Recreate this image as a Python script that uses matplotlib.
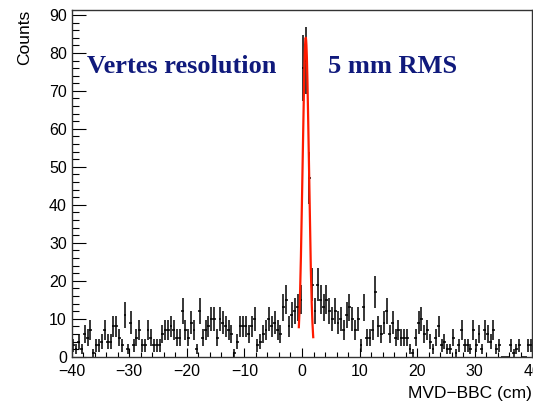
import numpy as np
import matplotlib
matplotlib.use("Agg")
import matplotlib.pyplot as plt
from matplotlib.ticker import MultipleLocator

plt.rcParams['font.family'] = ['Liberation Sans', 'DejaVu Sans']

# ---- data (0.5 cm bins from -40 to 40) ----
bin_edges_range = (-40.0, 40.0)
counts_neg = [3, 2, 4, 2, 6, 5, 7, 1, 3, 3,
              4, 7, 4, 4, 8, 8, 5, 3, 11, 2,
              9, 3, 5, 7, 3, 3, 7, 5, 3, 3,
              3, 6, 7, 7, 8, 7, 5, 5, 12, 7,
              5, 9, 7, 2, 12, 5, 7, 8, 10, 10,
              5, 10,
              9, 8, 7, 6, 1, 4, 8, 8, 8, 6, 8, 10, 3, 4, 6, 7, 10, 8, 9, 7,
              6, 13, 15, 8, 11, 12, 13, 15]
counts_pos = [76, 78, 47, 19, 12, 19, 15, 13, 15, 12,
              10, 12, 9, 10, 7, 11, 13, 10, 7, 10,
              3, 13, 5, 5, 7, 17, 8, 6, 9, 12,
              6, 9, 5, 7, 5, 5, 5, 2, 1, 5,
              9, 10, 6, 7, 4, 2, 5, 8, 3, 4,
              2, 2, 5, 1, 3, 7, 3, 3, 2, 7,
              3, 6, 2, 7, 6, 4, 7, 2, 3, 0,
              0, 0, 3, 1, 2, 3, 0, 0, 3, 3]
counts = np.array(counts_neg + counts_pos, dtype=float)

# Gaussian fit parameters (amplitude, mean, sigma) and fit range
fit_amp, fit_mean, fit_sigma = 84.0, 0.65, 0.55
fit_range = (-0.55, 1.95)

x_ticks = [-40, -30, -20, -10, 0, 10, 20, 30, 40]
y_ticks = [0, 10, 20, 30, 40, 50, 60, 70, 80, 90]

# ---- figure ----
W, H = 533, 405
fig = plt.figure(figsize=(W / 100, H / 100), dpi=100)
ax = fig.add_axes([71.7 / W, 1 - 356.7 / H, (532.3 - 71.7) / W, (356.7 - 10) / H])

edges = np.linspace(bin_edges_range[0], bin_edges_range[1], len(counts) + 1)
centers = 0.5 * (edges[:-1] + edges[1:])
half_w = 0.5 * (edges[1] - edges[0])
ax.errorbar(centers, counts, xerr=half_w, yerr=np.sqrt(counts), fmt='none',
            ecolor='black', elinewidth=1.1, capsize=0)

xf = np.linspace(fit_range[0], fit_range[1], 200)
yf = fit_amp * np.exp(-0.5 * ((xf - fit_mean) / fit_sigma) ** 2)
ax.plot(xf, yf, color='#ff1a00', lw=1.6)

ax.set_xlim(-40, 40)
ax.set_ylim(0, 91.3)
ax.set_xticks(x_ticks)
ax.set_yticks(y_ticks)
ax.set_xticklabels([f"\u2212{abs(t)}" if t < 0 else str(t) for t in x_ticks])
ax.xaxis.set_minor_locator(MultipleLocator(2))
ax.yaxis.set_minor_locator(MultipleLocator(2))
ax.tick_params(axis='y', which='major', direction='in', length=10, width=0.8, labelsize=11.5, pad=3.4)
ax.tick_params(axis='y', which='minor', direction='in', length=5, width=0.8)
ax.tick_params(axis='x', which='major', direction='in', length=6.5, width=0.8, labelsize=11.5, pad=5.2)
ax.tick_params(axis='x', which='minor', direction='in', length=3.6, width=0.8)
for s in ax.spines.values():
    s.set_linewidth(1.0)
    s.set_color('#333333')

ax.set_ylabel("Counts", fontsize=12.5, loc='top', labelpad=12)
ax.set_xlabel("MVD\u2212BBC (cm)", fontsize=12.5, loc='right', labelpad=5)

navy = '#101a7c'
ax.text(86.7 / W, 1 - 73 / H, "Vertes resolution", transform=fig.transFigure,
        family='Liberation Serif', weight='bold', fontsize=19, color=navy,
        ha='left', va='baseline')
ax.text(328 / W, 1 - 73 / H, "5 mm RMS", transform=fig.transFigure,
        family='Liberation Serif', weight='bold', fontsize=19, color=navy,
        ha='left', va='baseline')

fig.savefig("out.png", dpi=100)
